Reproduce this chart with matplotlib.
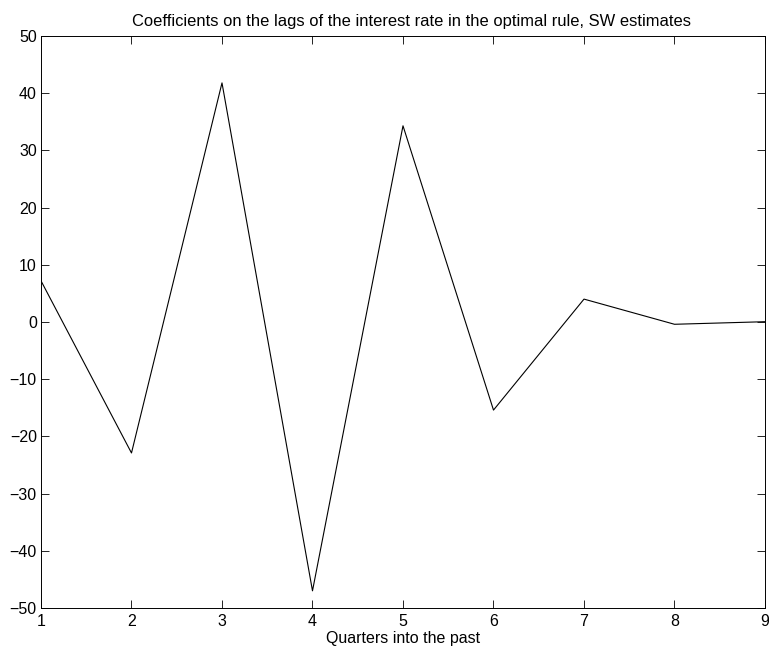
import matplotlib
matplotlib.use('Agg')
import matplotlib.pyplot as plt

# lag number and coefficient
quarters = [1, 2, 3, 4, 5, 6, 7, 8, 9]
coefs = [7.2, -22.9, 41.8, -47.0, 34.3, -15.4, 4.0, -0.4, 0.05]

plt.rcParams['font.family'] = ['Liberation Sans', 'DejaVu Sans']

fig = plt.figure(figsize=(7.69, 6.52), dpi=100)
ax = fig.add_axes([0.0533, 0.0675, 0.9415, 0.8773])

ax.plot(quarters, coefs, color='black', linewidth=0.8)

ax.set_xlim(1, 9)
ax.set_ylim(-50, 50)
ax.set_xticks(quarters)
ax.set_yticks(range(-50, 51, 10))
ax.tick_params(direction='in', top=True, right=True, length=6, width=0.6,
               labelsize=11.5)
ax.tick_params(axis='x', pad=4)
ax.tick_params(axis='y', pad=3)
for s in ax.spines.values():
    s.set_linewidth(0.7)

ax.set_title('Coefficients on the lags of the interest rate in the optimal rule, SW estimates',
             fontsize=11.9, pad=7, x=0.512)
ax.set_xlabel('Quarters into the past', fontsize=11.5, labelpad=2)

fig.savefig('out.png', dpi=100)
